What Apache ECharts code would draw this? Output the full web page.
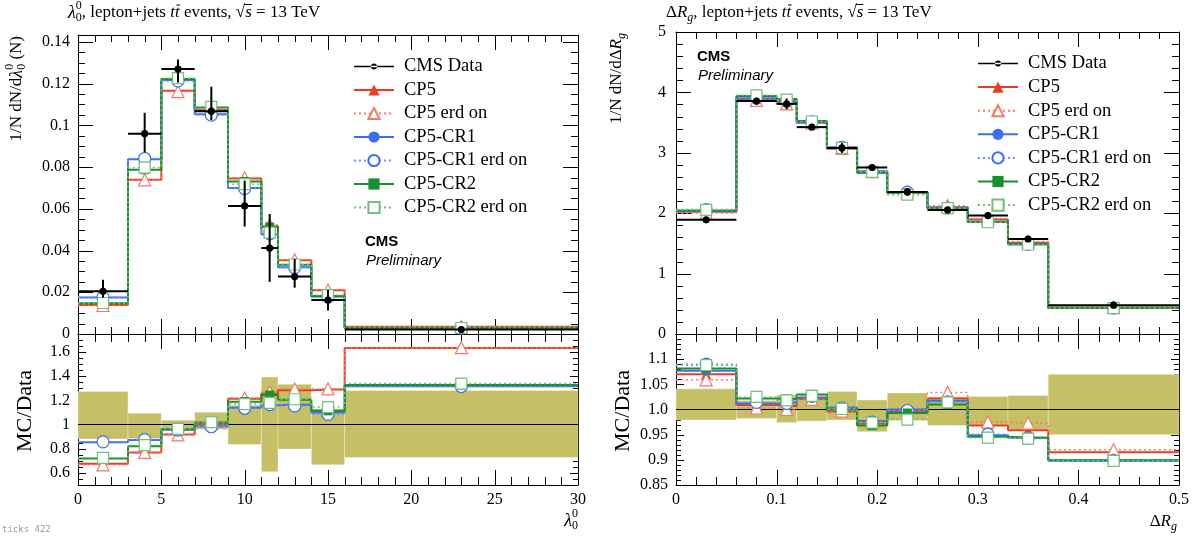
<!DOCTYPE html>
<html>
<head>
<meta charset="utf-8">
<script src="https://cdn.jsdelivr.net/npm/echarts@6.0.0/dist/echarts.min.js"></script>
<style>
html,body{margin:0;padding:0;background:#ffffff;overflow:hidden;}
#chart{width:1199px;height:536px;}
#dbg{position:absolute;left:2px;top:524px;font:9px monospace;color:#999;}
</style>
</head>
<body>
<div id="chart"></div>
<div id="dbg"></div>
<script>
const dbgMsgs = [];
window.addEventListener('error', e => { dbgMsgs.push('ERR ' + e.message); });
// ---------------- data : lambda_0^0 ----------------
const lamEdges   = [0, 3, 5, 7, 9, 11, 12, 14, 16, 30];
const lamCenters = [1.5, 4, 6, 8, 10, 11.5, 13, 15, 23];
const lamData    = [0.0205, 0.096, 0.127, 0.1068, 0.0614, 0.0412, 0.0275, 0.0163, 0.00214];
const lamDataLo  = [0.0175, 0.087, 0.1205, 0.1025, 0.0515, 0.025, 0.0222, 0.0113, 0.0015];
const lamDataHi  = [0.026, 0.106, 0.1315, 0.1185, 0.0735, 0.0575, 0.036, 0.0212, 0.0029];
const lamCP5      = [0.01384, 0.0739, 0.1166, 0.1074, 0.0745, 0.0517, 0.0353, 0.0210, 0.0035];
const lamCP5erd   = [0.01367, 0.0739, 0.1162, 0.1077, 0.0749, 0.0523, 0.0356, 0.0211, 0.0035];
const lamCR1      = [0.01749, 0.0837, 0.1217, 0.1053, 0.0700, 0.0478, 0.0320, 0.01793, 0.00282];
const lamCR1erd   = [0.01757, 0.0841, 0.1213, 0.1049, 0.0697, 0.0480, 0.0318, 0.01769, 0.00281];
const lamCR2      = [0.01476, 0.0787, 0.1222, 0.1086, 0.0731, 0.0513, 0.0332, 0.01816, 0.00284];
const lamCR2erd   = [0.01486, 0.0797, 0.1226, 0.1089, 0.0718, 0.0486, 0.0333, 0.01866, 0.00287];
const lamRatioCP5    = [0.675, 0.77, 0.918, 1.006, 1.214, 1.255, 1.285, 1.29, 1.635];
const lamRatioCP5erd = [0.667, 0.77, 0.915, 1.008, 1.22, 1.27, 1.295, 1.295, 1.637];
const lamRatioCR1    = [0.853, 0.872, 0.958, 0.986, 1.14, 1.16, 1.164, 1.10, 1.317];
const lamRatioCR1erd = [0.857, 0.876, 0.955, 0.982, 1.135, 1.165, 1.155, 1.085, 1.315];
const lamRatioCR2    = [0.72, 0.82, 0.962, 1.017, 1.19, 1.245, 1.206, 1.114, 1.328];
const lamRatioCR2erd = [0.725, 0.83, 0.965, 1.02, 1.17, 1.18, 1.21, 1.145, 1.34];
const lamBandLo = [0.88, 0.885, 0.958, 0.96, 0.835, 0.61, 0.797, 0.667, 0.728];
const lamBandHi = [1.275, 1.094, 1.036, 1.103, 1.16, 1.394, 1.333, 1.13, 1.283];

// ---------------- data : Delta R_g ----------------
const drEdges   = [0, 0.06, 0.1, 0.12, 0.15, 0.18, 0.21, 0.25, 0.29, 0.33, 0.37, 0.5];
const drCenters = [0.03, 0.08, 0.11, 0.135, 0.165, 0.195, 0.23, 0.27, 0.31, 0.35, 0.435];
const drData    = [1.89, 3.856, 3.81, 3.425, 3.08, 2.757, 2.353, 2.055, 1.96, 1.573, 0.478];
const drDataErr = [0.03, 0.055, 0.09, 0.05, 0.08, 0.05, 0.065, 0.04, 0.04, 0.04, 0.02];
const drCP5    = [2.022, 3.891, 3.837, 3.497, 3.068, 2.680, 2.346, 2.100, 1.897, 1.509, 0.437];
const drCP5erd = [2.002, 3.868, 3.810, 3.494, 3.071, 2.688, 2.351, 2.125, 1.911, 1.531, 0.440];
const drCR1    = [2.036, 3.902, 3.863, 3.507, 3.092, 2.694, 2.353, 2.090, 1.860, 1.485, 0.429];
const drCR1erd = [2.060, 3.910, 3.856, 3.514, 3.089, 2.688, 2.348, 2.086, 1.864, 1.483, 0.430];
const drCR2    = [2.044, 3.941, 3.890, 3.528, 3.080, 2.669, 2.337, 2.076, 1.854, 1.485, 0.430];
const drCR2erd = [2.056, 3.952, 3.879, 3.518, 3.083, 2.685, 2.306, 2.084, 1.850, 1.482, 0.429];
const drRatioCP5    = [1.070, 1.009, 1.007, 1.021, 0.996, 0.972, 0.997, 1.022, 0.968, 0.959, 0.915];
const drRatioCP5erd = [1.059, 1.003, 1.000, 1.020, 0.997, 0.975, 0.999, 1.034, 0.975, 0.973, 0.920];
const drRatioCR1    = [1.077, 1.012, 1.014, 1.024, 1.004, 0.977, 1.000, 1.017, 0.949, 0.944, 0.898];
const drRatioCR1erd = [1.090, 1.014, 1.012, 1.026, 1.003, 0.975, 0.998, 1.015, 0.951, 0.943, 0.899];
const drRatioCR2    = [1.0815, 1.022, 1.021, 1.030, 1.000, 0.968, 0.993, 1.010, 0.946, 0.944, 0.899];
const drRatioCR2erd = [1.088, 1.025, 1.018, 1.027, 1.001, 0.974, 0.980, 1.014, 0.944, 0.942, 0.898];
const drBandLo = [0.979, 0.982, 0.974, 0.977, 0.979, 0.956, 0.978, 0.968, 0.969, 0.960, 0.950];
const drBandHi = [1.041, 1.018, 1.029, 1.020, 1.036, 1.019, 1.033, 1.025, 1.026, 1.028, 1.070];

const legendNames = ['CMS Data', 'CP5', 'CP5 erd on', 'CP5-CR1', 'CP5-CR1 erd on', 'CP5-CR2', 'CP5-CR2 erd on'];

// ---------------- styling ----------------
const SERIF = 'Liberation Serif';
const SANS = 'Liberation Sans';
const RED = '#ef3b23', RED_L = '#f47a66';
const BLUE = '#3b6ef2', BLUE_L = '#7195f3';
const GREEN = '#14912a', GREEN_L = '#72bf7c';
const BAND = '#c5bf66';

const mcStyles = [
  {name: 'CP5', symbol: 'triangle', size: 10, fill: RED, border: RED, bw: 0, line: RED, width: 2, type: 'solid'},
  {name: 'CP5 erd on', symbol: 'triangle', size: 12, fill: '#fff', border: RED_L, bw: 1.2, line: RED_L, width: 1.5, type: [2, 3]},
  {name: 'CP5-CR1', symbol: 'circle', size: 10, fill: BLUE, border: BLUE, bw: 0, line: BLUE, width: 2, type: 'solid'},
  {name: 'CP5-CR1 erd on', symbol: 'circle', size: 12, fill: '#fff', border: BLUE, bw: 1.2, line: BLUE_L, width: 1.5, type: [2, 3]},
  {name: 'CP5-CR2', symbol: 'rect', size: 9, fill: GREEN, border: GREEN, bw: 0, line: GREEN, width: 2, type: 'solid'},
  {name: 'CP5-CR2 erd on', symbol: 'rect', size: 11, fill: '#fff', border: GREEN_L, bw: 1.2, line: GREEN_L, width: 1.5, type: [2, 3]}
];

// tick layout per grid: [start, end, minorStep, majorStep, majorLen, minorLen]
const tickLayout = [
  {g: 0, xr: [0, 30], yr: [0, 0.1433], xt: [1, 29, 1, 5, 15, 7], yt: [0.005, 0.14, 0.005, 0.02, 15, 7]},
  {g: 1, xr: [0, 30], yr: [0.5, 1.75], xt: [1, 29, 1, 5, 15, 8], yt: [0.55, 1.7, 0.05, 0.2, 8, 5]},
  {g: 2, xr: [0, 0.5], yr: [0, 5], xt: [0.02, 0.48, 0.02, 0.1, 15, 7], yt: [0.2, 4.8, 0.2, 1, 15, 7]},
  {g: 3, xr: [0, 0.5], yr: [0.85, 1.15], xt: [0.02, 0.48, 0.02, 0.1, 15, 8], yt: [0.86, 1.14, 0.01, 0.05, 8, 5]}
];

const panels = [
  {g: 0, edges: lamEdges, centers: lamCenters, mc: [lamCP5, lamCP5erd, lamCR1, lamCR1erd, lamCR2, lamCR2erd],
   data: lamData, lo: lamDataLo, hi: lamDataHi},
  {g: 1, edges: lamEdges, centers: lamCenters, mc: [lamRatioCP5, lamRatioCP5erd, lamRatioCR1, lamRatioCR1erd, lamRatioCR2, lamRatioCR2erd],
   band: [lamBandLo, lamBandHi]},
  {g: 2, edges: drEdges, centers: drCenters, mc: [drCP5, drCP5erd, drCR1, drCR1erd, drCR2, drCR2erd],
   data: drData, lo: drData.map((v, i) => v - drDataErr[i]), hi: drData.map((v, i) => v + drDataErr[i])},
  {g: 3, edges: drEdges, centers: drCenters, mc: [drRatioCP5, drRatioCP5erd, drRatioCR1, drRatioCR1erd, drRatioCR2, drRatioCR2erd],
   band: [drBandLo, drBandHi]}
];

// ---------------- axes ----------------
function axisCommon(g, min, max, extra) {
  return Object.assign({
    type: 'value', gridIndex: g, min: min, max: max,
    axisLine: {show: true, onZero: false, lineStyle: {color: '#000', width: 1}},
    axisTick: {show: false}, minorTick: {show: false},
    splitLine: {show: false}, minorSplitLine: {show: false},
    axisLabel: {show: false}
  }, extra || {});
}
const lab = (o) => Object.assign({show: true, color: '#000', fontFamily: SERIF, fontSize: 16}, o);
function ratioFmt(v) {
  const n = Number(v);
  return Math.abs(n - 1) < 1e-9 ? '1.0' : String(Math.round(n * 100) / 100);
}

const xAxis = [
  axisCommon(0, 0, 30, {interval: 5, position: 'bottom'}),
  axisCommon(0, 0, 30, {interval: 5, position: 'top'}),
  axisCommon(1, 0, 30, {interval: 5, position: 'bottom', axisLabel: lab({margin: 7})}),
  axisCommon(1, 0, 30, {interval: 5, position: 'top'}),
  axisCommon(2, 0, 0.5, {interval: 0.1, position: 'bottom'}),
  axisCommon(2, 0, 0.5, {interval: 0.1, position: 'top'}),
  axisCommon(3, 0, 0.5, {interval: 0.1, position: 'bottom', axisLabel: lab({margin: 7})}),
  axisCommon(3, 0, 0.5, {interval: 0.1, position: 'top'})
];
const yAxis = [
  axisCommon(0, 0, 0.1433, {interval: 0.02, position: 'left', axisLabel: lab({margin: 8, showMaxLabel: false})}),
  axisCommon(0, 0, 0.1433, {interval: 0.02, position: 'right'}),
  axisCommon(1, 0.5, 1.75, {splitNumber: 6, position: 'left', axisLabel: lab({margin: 8, showMinLabel: false, showMaxLabel: false})}),
  axisCommon(1, 0.5, 1.75, {splitNumber: 6, position: 'right'}),
  axisCommon(2, 0, 5, {interval: 1, position: 'left', axisLabel: lab({margin: 10})}),
  axisCommon(2, 0, 5, {interval: 1, position: 'right'}),
  axisCommon(3, 0.85, 1.15, {splitNumber: 6, position: 'left', axisLabel: lab({margin: 8, showMaxLabel: false, formatter: ratioFmt})}),
  axisCommon(3, 0.85, 1.15, {splitNumber: 6, position: 'right'})
];

// ---------------- series ----------------
function histData(edges, centers, vals) {
  const out = [];
  for (let i = 0; i < vals.length; i++) {
    out.push({value: [edges[i], vals[i]], symbol: 'none'});
    out.push({value: [centers[i], vals[i]]});
  }
  out.push({value: [edges[edges.length - 1], vals[vals.length - 1]], symbol: 'none'});
  return out;
}
function tickValues(t) {
  const start = t[0], end = t[1], step = t[2], majorStep = t[3];
  const out = [];
  const n = Math.round((end - start) / step);
  const ratio = Math.round(majorStep / step);
  const k0 = Math.round(start / step);
  for (let k = 0; k <= n; k++) {
    const idx = k0 + k;
    out.push({v: Math.round(idx * step * 1e6) / 1e6, len: idx % ratio === 0 ? t[4] : t[5]});
  }
  return out;
}

const series = [];
panels.forEach(p => {
  const xi = 2 * p.g, yi = 2 * p.g;
  if (p.band) {
    series.push({
      type: 'custom', name: 'band', xAxisIndex: xi, yAxisIndex: yi, z: 1, silent: true,
      data: p.band[0].map((lo, i) => [p.edges[i], p.edges[i + 1], lo, p.band[1][i]]),
      encode: {x: [0, 1], y: [2, 3]},
      renderItem: (params, api) => {
        const a = api.coord([api.value(0), api.value(3)]);
        const b = api.coord([api.value(1), api.value(2)]);
        return {type: 'rect', shape: {x: a[0], y: a[1], width: b[0] - a[0], height: b[1] - a[1]},
                style: {fill: BAND, stroke: 'rgba(255,255,255,0.35)', lineWidth: 1}};
      },
      markLine: {silent: true, symbol: 'none', z: 2, label: {show: false},
                 lineStyle: {color: '#000', width: 1, type: 'solid'}, data: [{yAxis: 1}]}
    });
  }
  mcStyles.forEach((s, k) => {
    series.push({
      type: 'line', name: s.name, xAxisIndex: xi, yAxisIndex: yi, z: 10 + k, step: 'end',
      data: histData(p.edges, p.centers, p.mc[k]),
      symbol: s.symbol, symbolSize: s.size, showAllSymbol: true, silent: true,
      itemStyle: {color: s.fill, borderColor: s.border, borderWidth: s.bw},
      lineStyle: {color: s.line, width: s.width, type: s.type},
      emphasis: {disabled: true}
    });
  });
  if (p.data) {
    series.push({
      type: 'custom', name: 'CMS Data', xAxisIndex: xi, yAxisIndex: yi, z: 20, silent: true,
      itemStyle: {color: '#000'},
      data: p.data.map((v, i) => [p.centers[i], v, p.edges[i], p.edges[i + 1], p.lo[i], p.hi[i]]),
      encode: {x: 0, y: 1},
      renderItem: (params, api) => {
        const c = api.value(0), y = api.value(1);
        const l = api.coord([api.value(2), y]), r = api.coord([api.value(3), y]);
        const lo = api.coord([c, api.value(4)]), hi = api.coord([c, api.value(5)]);
        const ctr = api.coord([c, y]);
        return {type: 'group', children: [
          {type: 'line', shape: {x1: l[0], y1: l[1], x2: r[0], y2: r[1]}, style: {stroke: '#000', lineWidth: 2}},
          {type: 'line', shape: {x1: lo[0], y1: lo[1], x2: hi[0], y2: hi[1]}, style: {stroke: '#000', lineWidth: 2}},
          {type: 'circle', shape: {cx: ctr[0], cy: ctr[1], r: 3.6}, style: {fill: '#000'}}
        ]};
      }
    });
  }
});

// ---------------- text helpers ----------------
const mctx = document.createElement('canvas').getContext('2d');
function tw(t, size, italic, fam) {
  mctx.font = (italic ? 'italic ' : '') + size + 'px "' + fam + '"';
  return mctx.measureText(t).width;
}
function runText(parts, fam, base) {
  let x = 0; const kids = [];
  parts.forEach(p => {
    const s = p.s || base;
    const w = tw(p.t, s, p.i, fam);
    kids.push({type: 'text', x: x, y: p.dy || 0,
      style: {text: p.t, fontSize: s, fontStyle: p.i ? 'italic' : 'normal', fontFamily: fam,
              fill: '#000', align: 'left', verticalAlign: 'middle'}});
    if (p.bar) kids.push({type: 'line', shape: {x1: x + p.bar[0], y1: p.bar[2], x2: x + w + p.bar[1], y2: p.bar[2]},
                          style: {stroke: '#000', lineWidth: 1}});
    if (!p.noAdv) x += w;
  });
  return {kids: kids, width: x};
}
const titleTail = [
  {t: ', lepton+jets '}, {t: 't', i: 1}, {t: 't', i: 1, bar: [1.5, 0.5, -8]}, {t: ' events, '},
  {t: '\u221A'}, {t: 's', i: 1, bar: [-1, 0, -8.5]}, {t: ' = 13 TeV'}
];
const lamSym = [{t: '\u03BB', i: 1, s: 18}, {t: '0', s: 12, dy: -7, noAdv: 1}, {t: '0', s: 12, dy: 5}];
const drSym = [{t: '\u0394'}, {t: 'R', i: 1}, {t: 'g', i: 1, s: 12, dy: 5}];

const tL = runText(lamSym.concat(titleTail), SERIF, 17);
const tR = runText(drSym.concat(titleTail), SERIF, 17);
const yL = runText([{t: '1/N dN/d'}].concat(lamSym, [{t: ' (N)'}]), SERIF, 17);
const yR = runText([{t: '1/N dN/d'}].concat(drSym), SERIF, 17);
const xL = runText(lamSym, SERIF, 17);
const xR = runText(drSym, SERIF, 17);

const graphic = [
  {type: 'group', x: 68, y: 13, children: tL.kids},
  {type: 'group', x: 666, y: 13, children: tR.kids},
  {type: 'group', x: 17, y: 36 + yL.width, rotation: Math.PI / 2, children: yL.kids},
  {type: 'group', x: 617, y: 33 + yR.width, rotation: Math.PI / 2, children: yR.kids},
  {type: 'group', x: 578 - xL.width, y: 521, children: xL.kids},
  {type: 'group', x: 1177 - xR.width, y: 522, children: xR.kids},
  {type: 'text', x: 25, y: 411, rotation: Math.PI / 2,
   style: {text: 'MC/Data', fontSize: 22, fontFamily: SERIF, fill: '#000', align: 'center', verticalAlign: 'middle'}},
  {type: 'text', x: 623, y: 411, rotation: Math.PI / 2,
   style: {text: 'MC/Data', fontSize: 22, fontFamily: SERIF, fill: '#000', align: 'center', verticalAlign: 'middle'}},
  {type: 'text', x: 365, y: 242, style: {text: 'CMS', fontSize: 15, fontWeight: 'bold', fontFamily: SANS, fill: '#000', verticalAlign: 'middle'}},
  {type: 'text', x: 366, y: 261, style: {text: 'Preliminary', fontSize: 15, fontStyle: 'italic', fontFamily: SANS, fill: '#000', verticalAlign: 'middle'}},
  {type: 'text', x: 697, y: 57, style: {text: 'CMS', fontSize: 15, fontWeight: 'bold', fontFamily: SANS, fill: '#000', verticalAlign: 'middle'}},
  {type: 'text', x: 698, y: 76, style: {text: 'Preliminary', fontSize: 15, fontStyle: 'italic', fontFamily: SANS, fill: '#000', verticalAlign: 'middle'}}
];

// ---------------- legends ----------------
const dataIcon = 'path://M0,0L0.01,0L0.01,0.01Z M0,6.2L40,6.2L40,7.8L0,7.8Z M17,7A3,3 0 1 0 23,7A3,3 0 1 0 17,7Z M39.99,14L40,14L40,13.99Z';
function legendData() {
  return legendNames.map(n => n === 'CMS Data' ? {name: n, icon: dataIcon, itemStyle: {color: '#000'}} : {name: n});
}
function legend(left, top, gap) {
  return {left: left, top: top, orient: 'vertical', itemWidth: 40, itemHeight: 14, itemGap: gap,
          selectedMode: false, padding: 0,
          textStyle: {fontFamily: SERIF, fontSize: 18.5, color: '#000', lineHeight: 18, padding: [0, 0, 0, 5]},
          data: legendData()};
}

const option = {
  animation: false,
  textStyle: {fontFamily: SERIF},
  grid: [
    {left: 78, top: 35, width: 500, height: 299},
    {left: 78, top: 334, width: 500, height: 151},
    {left: 676, top: 32, width: 503, height: 302},
    {left: 676, top: 334, width: 503, height: 151}
  ],
  xAxis: xAxis,
  yAxis: yAxis,
  legend: [legend(353, 57, 4.5), legend(977, 54, 4.6)],
  graphic: graphic,
  series: series
};

const chart = echarts.init(document.getElementById('chart'), null, {renderer: 'canvas'});
chart.setOption(option);

// ---------------- ticks: placed through the axes' own pixel conversion ----------------
function buildTicks() {
  const kids = [];
  const st = {stroke: '#000', lineWidth: 1};
  tickLayout.forEach(t => {
    const finder = {xAxisIndex: 2 * t.g, yAxisIndex: 2 * t.g};
    tickValues(t.xt).forEach(tk => {
      const a = chart.convertToPixel(finder, [tk.v, t.yr[0]]);
      const b = chart.convertToPixel(finder, [tk.v, t.yr[1]]);
      if (!a || !b) return;
      const x = Math.round(a[0]) + 0.5;
      kids.push({type: 'line', shape: {x1: x, y1: a[1], x2: x, y2: a[1] - tk.len}, style: st});
      kids.push({type: 'line', shape: {x1: x, y1: b[1], x2: x, y2: b[1] + tk.len}, style: st});
    });
    tickValues(t.yt).forEach(tk => {
      const a = chart.convertToPixel(finder, [t.xr[0], tk.v]);
      const b = chart.convertToPixel(finder, [t.xr[1], tk.v]);
      if (!a || !b) return;
      const y = Math.round(a[1]) + 0.5;
      kids.push({type: 'line', shape: {x1: a[0], y1: y, x2: a[0] + tk.len, y2: y}, style: st});
      kids.push({type: 'line', shape: {x1: b[0], y1: y, x2: b[0] - tk.len, y2: y}, style: st});
    });
  });
  return kids;
}
try {
  const tickKids = buildTicks();
  chart.setOption({graphic: graphic.concat([{type: 'group', z: 100, children: tickKids}])});
  dbgMsgs.push('ticks ' + tickKids.length);
} catch (e) {
  dbgMsgs.push('TERR ' + e.message);
}
document.getElementById('dbg').textContent = dbgMsgs.join(' | ');
</script>
</body>
</html>
